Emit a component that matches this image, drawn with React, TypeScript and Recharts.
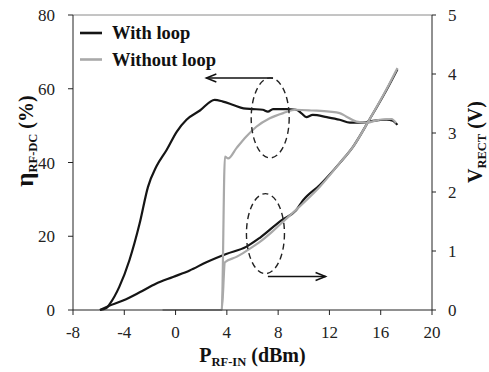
import React from 'react';
import { LineChart, Line, XAxis, YAxis, ReferenceLine, ReferenceDot, Legend } from 'recharts';

// input power ticks (dBm), efficiency ticks (%), voltage ticks (V)
const pinTicks = [-8, -4, 0, 4, 8, 12, 16, 20];
const effTicks = [0, 20, 40, 60, 80];
const voltTicks = [0, 1, 2, 3, 4, 5];

// efficiency, with loop
const withLoopEffPin = [-5.9, -5.4, -5.1, -4.4, -3.6, -2.8, -2.15, -1.5, -0.7, 0.1, 0.85, 1.9, 3.05, 3.7, 4.5, 5.3, 6.0, 6.8, 7.2, 7.6, 8.6, 9.4, 9.8, 10.2, 10.7, 11.8, 12.8, 13.6, 14.6, 15.4, 16.45, 16.95, 17.3];
const withLoopEff = [0, 0.5, 1.8, 6.2, 13.5, 23.5, 33.4, 38.9, 43.4, 48.4, 51.6, 54.1, 57.0, 56.5, 55.6, 54.7, 54.5, 54.3, 53.8, 54.5, 54.5, 54.3, 53.4, 52.3, 52.9, 52.3, 51.6, 50.8, 50.8, 51.3, 51.6, 51.3, 50.2];

// efficiency, without loop
const noLoopEffPin = [-1.0, 3.6, 3.85, 4.1, 4.75, 5.5, 6.3, 7.35, 8.4, 9.4, 10.7, 12.0, 12.8, 13.3, 14.1, 14.9, 15.9, 16.85, 17.2];
const noLoopEff = [0, 0, 41.6, 41.1, 43.9, 47.0, 49.7, 52.0, 53.4, 54.3, 54.1, 53.8, 53.4, 52.5, 51.1, 50.8, 51.6, 51.8, 50.7];

// rectified voltage, with loop
const withLoopVPin = [-5.9, -5.3, -4.1, -2.8, -1.5, -0.2, 1.1, 2.4, 3.95, 5.5, 6.55, 8.25, 9.4, 9.95, 11.25, 12.8, 13.85, 15.1, 16.45, 17.3];
const withLoopV = [0, 0.06, 0.16, 0.3, 0.45, 0.56, 0.67, 0.81, 0.95, 1.07, 1.22, 1.52, 1.69, 1.86, 2.12, 2.49, 2.77, 3.22, 3.73, 4.08];

// rectified voltage, without loop
const noLoopVPin = [-1.0, 3.6, 3.85, 4.75, 5.65, 6.55, 7.5, 8.25, 9.95, 11.25, 12.8, 13.85, 15.1, 16.45, 17.3];
const noLoopV = [0, 0, 0.81, 0.9, 1.02, 1.15, 1.32, 1.47, 1.81, 2.09, 2.49, 2.77, 3.22, 3.74, 4.1];

const seriesNames = ['With loop', 'Without loop'];

const toPoints = (xs: number[], ys: number[]) => xs.map((x, i) => ({ x, y: ys[i] }));

const BLACK = '#151515';
const GRAY = '#a9a9a9';
const FONT = 'Liberation Serif';

const tickStyle = { fill: '#222', fontSize: 17, fontFamily: FONT };

// dashed ellipse used to group the two curve sets
const Ellipse = (p: any) => (
  <ellipse cx={p.cx} cy={p.cy} rx={19} ry={40} fill="none" stroke="#222" strokeWidth={1.4} strokeDasharray="6 4" />
);

// arrow pointing to the axis a curve set belongs to
const Arrow = (p: any) => {
  const { x1, y1, x2, y2 } = p;
  const dir = Math.sign(x2 - x1);
  return (
    <g>
      <line x1={x1} y1={y1} x2={x2} y2={y2} stroke="#111" strokeWidth={1.5} />
      <polyline
        points={`${x2 - dir * 10},${y2 - 4} ${x2},${y2} ${x2 - dir * 10},${y2 + 4}`}
        fill="none"
        stroke="#111"
        strokeWidth={1.5}
      />
    </g>
  );
};

const renderLegend = () => (
  <svg width={200} height={62}>
    {seriesNames.map((name, i) => (
      <g key={name}>
        <line x1={8} x2={30} y1={18 + i * 26.5} y2={18 + i * 26.5} stroke={i === 0 ? BLACK : GRAY} strokeWidth={2.6} />
        <text x={40} y={24 + i * 26.5} fontFamily={FONT} fontWeight="bold" fontSize={18.5} fill="#111">
          {name}
        </text>
      </g>
    ))}
  </svg>
);

const XTitle = (p: any) => {
  const { x, y, width } = p.viewBox;
  return (
    <text x={x + width / 2} y={y + 52} textAnchor="middle" fontFamily={FONT} fontWeight="bold" fontSize={20} fill="#111">
      <tspan>P</tspan>
      <tspan fontSize={12.5} dy={4}>RF-IN</tspan>
      <tspan dy={-4}> (dBm)</tspan>
    </text>
  );
};

const EffTitle = (p: any) => {
  const cx = p.viewBox.x + 32.5;
  const cy = 141;
  return (
    <text x={cx} y={cy} transform={`rotate(-90, ${cx}, ${cy})`} textAnchor="middle" fontFamily={FONT} fontWeight="bold" fontSize={20} fill="#111">
      <tspan fontSize={25}>η</tspan>
      <tspan fontSize={12.5} dy={4}>RF-DC</tspan>
      <tspan dy={-4}> (%)</tspan>
    </text>
  );
};

const VoltTitle = (p: any) => {
  const cx = p.viewBox.x + 50;
  const cy = 142;
  return (
    <text x={cx} y={cy} transform={`rotate(-90, ${cx}, ${cy})`} textAnchor="middle" fontFamily={FONT} fontWeight="bold" fontSize={20} fill="#111">
      <tspan>V</tspan>
      <tspan fontSize={12.5} dy={4}>RECT</tspan>
      <tspan dy={-4}> (V)</tspan>
    </text>
  );
};

export default function App() {
  return (
    <div style={{ position: 'absolute', left: 0, top: 0, background: '#fff', fontFamily: FONT }}>
      <LineChart width={489} height={372} margin={{ top: 15, right: 0, bottom: 0, left: 0 }}>
        <XAxis
          dataKey="x"
          type="number"
          domain={[-8, 20]}
          ticks={pinTicks}
          allowDataOverflow
          height={62}
          tickSize={5}
          tickMargin={11}
          tick={tickStyle}
          stroke="#222"
          label={{ content: XTitle }}
        />
        <YAxis
          yAxisId="eff"
          type="number"
          domain={[0, 80]}
          ticks={effTicks}
          width={73}
          tickSize={5}
          tickMargin={13}
          tick={tickStyle}
          stroke="#222"
          label={{ content: EffTitle }}
        />
        <YAxis
          yAxisId="volt"
          orientation="right"
          type="number"
          domain={[0, 5]}
          ticks={voltTicks}
          width={57}
          tickSize={4}
          tickMargin={12}
          tick={tickStyle}
          stroke="#222"
          label={{ content: VoltTitle }}
        />
        <ReferenceLine yAxisId="eff" y={80} stroke="#8a8a8a" strokeWidth={1} />
        <Legend
          layout="vertical"
          align="center"
          verticalAlign="middle"
          content={renderLegend}
          wrapperStyle={{ left: 72, top: 15, width: 200, height: 62 }}
        />
        <Line
          yAxisId="eff"
          data={toPoints(withLoopEffPin, withLoopEff)}
          dataKey="y"
          name={seriesNames[0]}
          type="monotone"
          stroke={BLACK}
          strokeWidth={2.2}
          dot={false}
          isAnimationActive={false}
        />
        <Line
          yAxisId="volt"
          data={toPoints(withLoopVPin, withLoopV)}
          dataKey="y"
          name={seriesNames[0] + ' (V)'}
          legendType="none"
          type="monotone"
          stroke={BLACK}
          strokeWidth={2.2}
          dot={false}
          isAnimationActive={false}
        />
        <Line
          yAxisId="eff"
          data={toPoints(noLoopEffPin, noLoopEff)}
          dataKey="y"
          name={seriesNames[1]}
          type="monotone"
          stroke={GRAY}
          strokeWidth={2.2}
          dot={false}
          isAnimationActive={false}
        />
        <Line
          yAxisId="volt"
          data={toPoints(noLoopVPin, noLoopV)}
          dataKey="y"
          name={seriesNames[1] + ' (V)'}
          legendType="none"
          type="monotone"
          stroke={GRAY}
          strokeWidth={2.2}
          dot={false}
          isAnimationActive={false}
        />
        <ReferenceDot yAxisId="eff" x={7.38} y={52.1} shape={Ellipse} />
        <ReferenceDot yAxisId="eff" x={7.01} y={20.7} shape={Ellipse} />
        <ReferenceLine yAxisId="eff" segment={[{ x: 7.6, y: 62.9 }, { x: 2.4, y: 62.9 }]} shape={Arrow} />
        <ReferenceLine yAxisId="eff" segment={[{ x: 7.2, y: 9.1 }, { x: 11.7, y: 9.1 }]} shape={Arrow} />
      </LineChart>
    </div>
  );
}
